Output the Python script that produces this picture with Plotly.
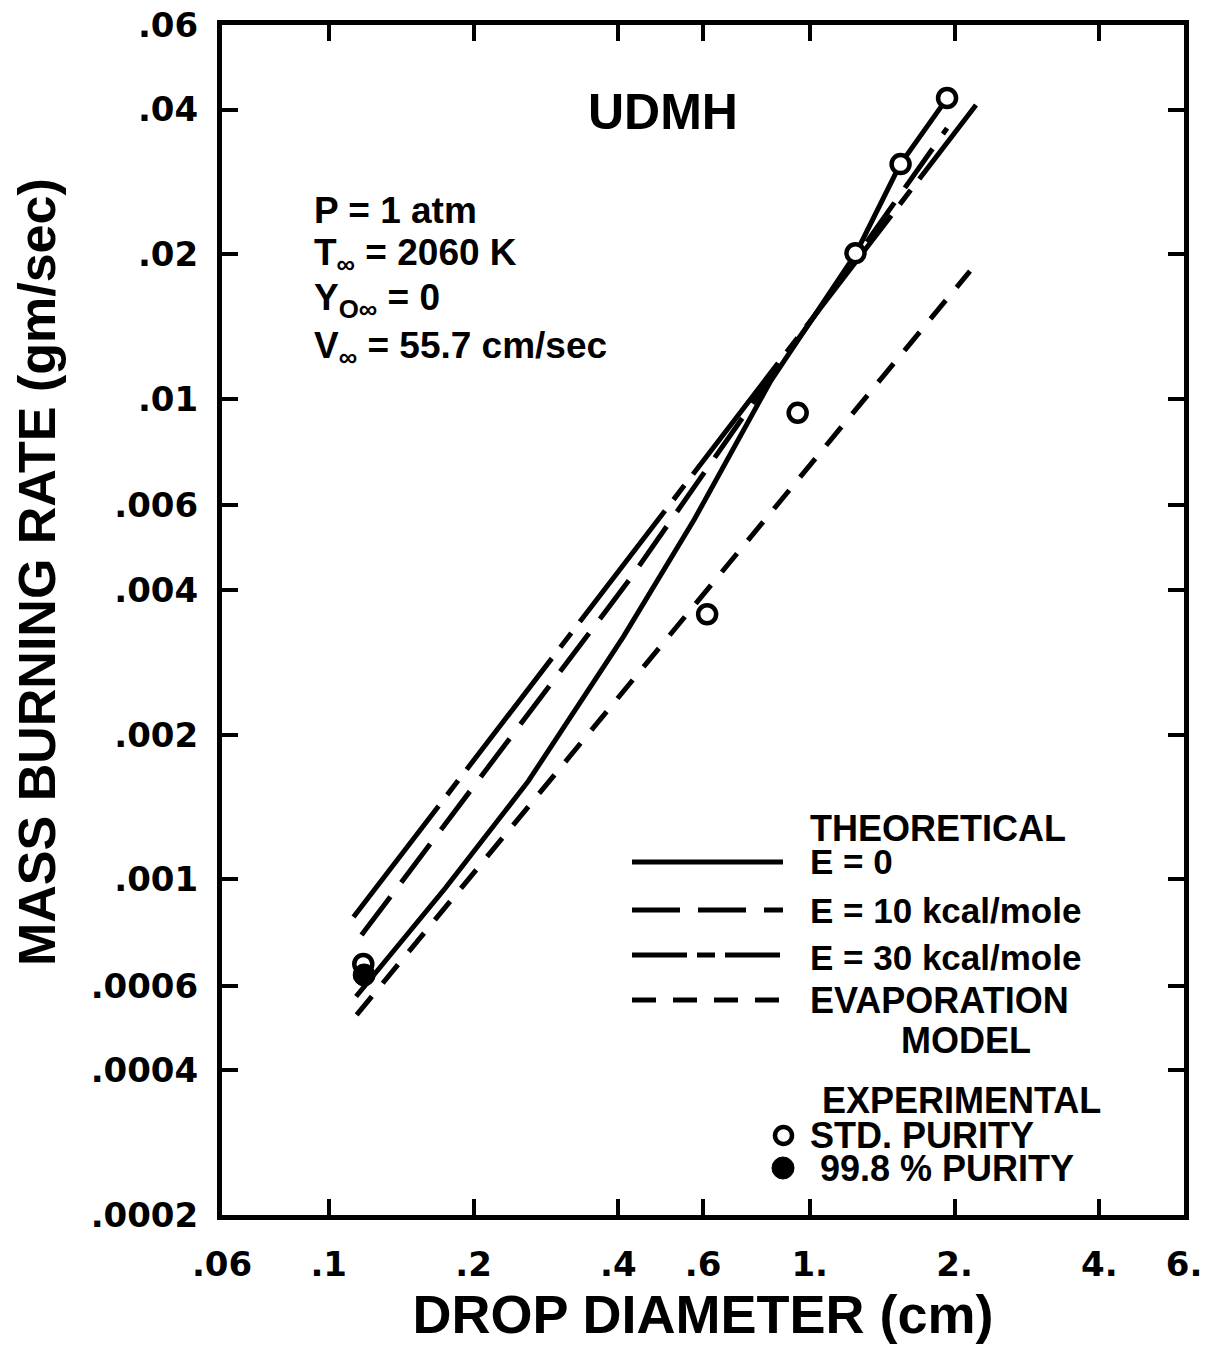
import plotly.graph_objects as go

# ---------------- data ----------------
diam_e0 = [0.114, 0.175, 0.26, 0.41, 0.575, 0.83, 1.245, 1.54, 1.93]
rate_e0 = [0.00057, 0.00096, 0.0016, 0.0032, 0.0056, 0.0109, 0.0200, 0.0307, 0.0422]

diam_e10 = [0.117, 0.424, 0.706, 1.93]
rate_e10 = [0.000765, 0.00423, 0.00879, 0.0366]

diam_e30 = [0.1126, 0.366, 0.683, 2.217]
rate_e30 = [0.000834, 0.0039, 0.0088, 0.0409]

diam_evap = [0.1143, 2.154]
rate_evap = [0.000522, 0.01845]

diam_std = [0.118, 0.612, 0.944, 1.245, 1.545, 1.93]
rate_std = [0.000666, 0.00356, 0.00935, 0.0201, 0.0308, 0.0423]

diam_pure = [0.1185]
rate_pure = [0.000632]

x_tickvals = [0.06, 0.1, 0.2, 0.4, 0.6, 1, 2, 4, 6]
x_ticktext = [".06", ".1", ".2", ".4", ".6", "1.", "2.", "4.", "6."]
y_tickvals = [0.0002, 0.0004, 0.0006, 0.001, 0.002, 0.004, 0.006, 0.01, 0.02, 0.04, 0.06]
y_ticktext = [".0002", ".0004", ".0006", ".001", ".002", ".004", ".006", ".01", ".02", ".04", ".06"]

# ---------------- layout geometry ----------------
W, H = 1206, 1351
L, R, T, B = 222, 1184, 25, 1215
TEXT_FONT = "Liberation Sans"
TICK_FONT = "DejaVu Sans"
LW = 5


def px(xp):
    return (xp - L) / (R - L)


def py(yp):
    return (B - yp) / (B - T)


DASH_E10 = "48px,18px"
DASH_E30 = "140px,14px,18px,14px"
DASH_EVAP = "24px,17px"

fig = go.Figure()

fig.add_trace(go.Scatter(x=diam_e0, y=rate_e0, mode="lines",
                         line=dict(color="black", width=LW), name="E = 0"))
fig.add_trace(go.Scatter(x=diam_e10, y=rate_e10, mode="lines",
                         line=dict(color="black", width=LW, dash=DASH_E10), name="E = 10 kcal/mole"))
fig.add_trace(go.Scatter(x=diam_e30, y=rate_e30, mode="lines",
                         line=dict(color="black", width=LW, dash=DASH_E30), name="E = 30 kcal/mole"))
fig.add_trace(go.Scatter(x=diam_evap, y=rate_evap, mode="lines",
                         line=dict(color="black", width=LW, dash=DASH_EVAP), name="EVAPORATION MODEL"))
fig.add_trace(go.Scatter(x=diam_std, y=rate_std, mode="markers",
                         marker=dict(symbol="circle", size=18, color="white",
                                     line=dict(color="black", width=4.5)), name="STD. PURITY"))
fig.add_trace(go.Scatter(x=diam_pure, y=rate_pure, mode="markers",
                         marker=dict(symbol="circle", size=22, color="black",
                                     line=dict(color="black", width=1)), name="99.8 % PURITY"))

axis_common = dict(
    type="log", showline=True, linewidth=LW, linecolor="black", mirror="ticks",
    ticks="inside", ticklen=16, tickwidth=4, tickcolor="black",
    showgrid=False, zeroline=False,
    tickfont=dict(family=TICK_FONT, size=34, color="black", weight="bold"),
)

fig.update_xaxes(axis_common, range=[-1.2218487, 0.7781513],
                 tickmode="array", tickvals=x_tickvals, ticktext=x_ticktext,
                 ticklabelstandoff=15,
                 title=dict(text="DROP DIAMETER (cm)", standoff=14,
                            font=dict(family=TEXT_FONT, size=54, color="black", weight="bold")))
fig.update_yaxes(axis_common, range=[-3.69897, -1.2218487],
                 tickmode="array", tickvals=y_tickvals, ticktext=y_ticktext,
                 ticklabelstandoff=12)

ann = []


def text(xp, yp, s, size, anchor="left", angle=0):
    ann.append(dict(x=px(xp), y=py(yp), xref="paper", yref="paper", text=s,
                    showarrow=False, xanchor=anchor, yanchor="middle", textangle=angle,
                    font=dict(family=TEXT_FONT, size=size, color="black", weight="bold")))


# y-axis title (sits above the axis centre in the reference)
text(37, 572, "MASS BURNING RATE (gm/sec)", 52, "center", -90)

text(663, 112, "UDMH", 50, "center")
text(312, 210, "P = 1 atm", 37)
text(312, 255, "T<sub>∞</sub> = 2060 K", 37)
text(312, 300, "Y<sub>O∞</sub> = 0", 37)
text(312, 348, "V<sub>∞</sub> = 55.7 cm/sec", 37)

text(808, 828, "THEORETICAL", 36)
text(808, 862, "E = 0", 35)
text(808, 910, "E = 10 kcal/mole", 35)
text(808, 957, "E = 30 kcal/mole", 35)
text(808, 1000, "EVAPORATION", 36)
text(966, 1040, "MODEL", 36, "center")
text(820, 1100, "EXPERIMENTAL", 36)
text(808, 1135, "STD. PURITY", 36)
text(818, 1168, "99.8 % PURITY", 36)

shapes = []
for yp, dash in [(862, "solid"), (910, DASH_E10), (955, "55px,10px,18px,10px"), (1000, DASH_EVAP)]:
    shapes.append(dict(type="line", xref="paper", yref="paper",
                       x0=px(632), x1=px(783), y0=py(yp), y1=py(yp),
                       line=dict(color="black", width=LW, dash=dash)))
shapes.append(dict(type="circle", xref="paper", yref="paper",
                   x0=px(775), x1=px(792), y0=py(1144), y1=py(1127),
                   line=dict(color="black", width=4.5), fillcolor="white"))
shapes.append(dict(type="circle", xref="paper", yref="paper",
                   x0=px(772), x1=px(794), y0=py(1179), y1=py(1157),
                   line=dict(color="black", width=1), fillcolor="black"))

fig.update_layout(
    width=W, height=H, autosize=False,
    margin=dict(l=L, r=W - R, t=T, b=H - B, autoexpand=False),
    paper_bgcolor="white", plot_bgcolor="white",
    showlegend=False, annotations=ann, shapes=shapes,
)

fig.write_html("out.html")
